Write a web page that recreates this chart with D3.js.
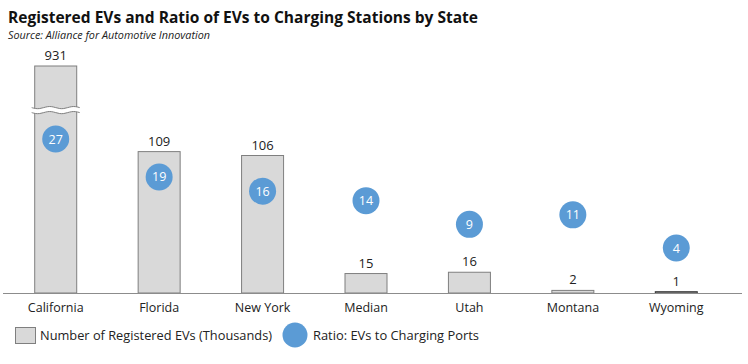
<!DOCTYPE html>
<html>
<head>
<meta charset="utf-8">
<script src="https://cdn.jsdelivr.net/npm/d3@7"></script>
<style>
  body { margin: 0; background: #fff; }
  text { font-family: "Open Sans", "Noto Sans", sans-serif; fill: #222; }
</style>
</head>
<body>
<div id="chart"></div>
<script>
// data
var states = ["California", "Florida", "New York", "Median", "Utah", "Montana", "Wyoming"]
var registeredEVs = [931, 109, 106, 15, 16, 2, 1]       // thousands
var evsPerPort = [27, 19, 16, 14, 9, 11, 4]

var width = 748, height = 364
var baseline = 293
var barW = 42
var barCap = 175      // bars taller than this get a broken top
var breakVal = 141

var svg = d3.select('#chart').append('svg')
  .attr('width', width)
  .attr('height', height)

// title + source
svg.append('text')
  .attr('x', 8).attr('y', 23)
  .attr('font-size', 16.5).attr('font-weight', 'bold')
  .attr('textLength', 470).attr('lengthAdjust', 'spacingAndGlyphs')
  .style('fill', '#111')
  .text('Registered EVs and Ratio of EVs to Charging Stations by State')
svg.append('text')
  .attr('x', 8).attr('y', 39)
  .attr('font-size', 10.5).attr('font-style', 'italic')
  .attr('textLength', 202).attr('lengthAdjust', 'spacingAndGlyphs')
  .text('Source: Alliance for Automotive Innovation')

var x = d3.scaleBand().domain(states).range([4, 728]).padding(0)
var y = d3.scaleLinear().domain([0, barCap]).range([baseline, 66])
var y2 = d3.scaleLinear().domain([0, 30]).range([267, 267 - 30 * 4.74])

function cx(d){ return x(d) + x.bandwidth() / 2 }

var rows = states.map(function(s, i){
  return {state: s, evs: registeredEVs[i], ratio: evsPerPort[i]}
})

// bars
svg.selectAll('.bar')
  .data(rows)
  .enter()
  .append('rect')
    .attr('class', 'bar')
    .attr('x', function(d){ return cx(d.state) - barW / 2 })
    .attr('y', function(d){ return y(Math.min(d.evs, barCap)) })
    .attr('width', barW)
    .attr('height', function(d){ return baseline - y(Math.min(d.evs, barCap)) })
    .attr('fill', '#d9d9d9')
    .attr('stroke', function(d){ return d.evs < 1.5 ? '#333' : '#7f7f7f' })
    .attr('stroke-width', 1)

// break mark on the capped bar
rows.filter(function(d){ return d.evs > barCap }).forEach(function(d){
  var x0 = cx(d.state) - barW / 2 - 3, x1 = cx(d.state) + barW / 2 + 3
  var yb = y(breakVal)
  var wave = function(off){
    return d3.range(0, 13).map(function(k){
      var t = k / 12
      return [x0 + t * (x1 - x0), yb + off + Math.sin(t * Math.PI * 4) * 1.3]
    })
  }
  var top = wave(-2.5), bot = wave(2.5)
  var ln = d3.line().curve(d3.curveBasis)
  svg.append('path')
    .attr('d', ln(top) + 'L' + ln(bot.slice().reverse()).slice(1) + 'Z')
    .attr('fill', '#fff').attr('stroke', 'none')
  ;[top, bot].forEach(function(p){
    svg.append('path')
      .attr('d', ln(p))
      .attr('fill', 'none').attr('stroke', '#7f7f7f').attr('stroke-width', 1)
  })
})

// value labels
svg.selectAll('.vlab')
  .data(rows)
  .enter()
  .append('text')
    .attr('class', 'vlab')
    .attr('x', function(d){ return cx(d.state) })
    .attr('y', function(d){ return y(Math.min(d.evs, barCap)) - 6 })
    .attr('text-anchor', 'middle')
    .attr('font-size', 13)
    .text(function(d){ return d.evs })

// axis line
svg.append('line')
  .attr('x1', 3).attr('x2', 742)
  .attr('y1', baseline + 0.5).attr('y2', baseline + 0.5)
  .attr('stroke', '#8c8c8c').attr('stroke-width', 1.2)

var xAxis = svg.append('g')
  .attr('transform', 'translate(0,' + baseline + ')')
  .call(d3.axisBottom(x).tickSize(0).tickPadding(10))
xAxis.select('.domain').remove()
xAxis.selectAll('text')
  .attr('font-size', 12.5)
  .style('font-family', '"Open Sans", sans-serif')
  .style('fill', '#222')

// ratio circles
var dots = svg.selectAll('.dot')
  .data(rows)
  .enter()
  .append('g')
    .attr('class', 'dot')
    .attr('transform', function(d){ return 'translate(' + cx(d.state) + ',' + y2(d.ratio) + ')' })
dots.append('circle')
  .attr('r', 13.5)
  .attr('fill', '#5b9bd5')
dots.append('text')
  .attr('text-anchor', 'middle')
  .attr('dy', '0.36em')
  .attr('font-size', 12.5)
  .style('fill', '#fff')
  .text(function(d){ return d.ratio })

// legend
var leg = svg.append('g')
leg.append('rect')
  .attr('x', 15.5).attr('y', 327.5).attr('width', 20).attr('height', 16)
  .attr('fill', '#d9d9d9').attr('stroke', '#7f7f7f')
leg.append('text')
  .attr('x', 40).attr('y', 340)
  .attr('font-size', 13.5)
  .attr('textLength', 232).attr('lengthAdjust', 'spacingAndGlyphs')
  .text('Number of Registered EVs (Thousands)')
leg.append('circle')
  .attr('cx', 295).attr('cy', 335).attr('r', 12.5)
  .attr('fill', '#5b9bd5')
leg.append('text')
  .attr('x', 313).attr('y', 340)
  .attr('font-size', 13.5)
  .attr('textLength', 166).attr('lengthAdjust', 'spacingAndGlyphs')
  .text('Ratio: EVs to Charging Ports')
</script>
</body>
</html>
